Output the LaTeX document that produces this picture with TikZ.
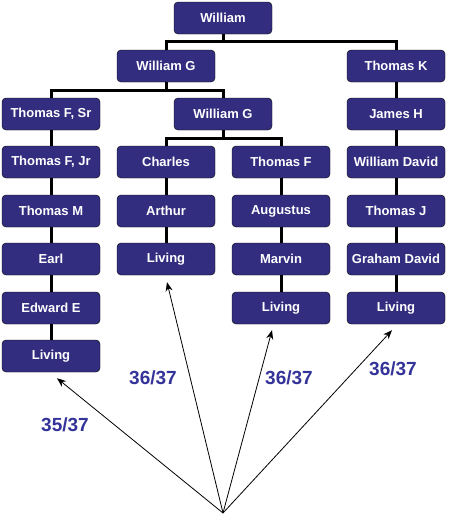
\documentclass[tikz,border=0pt]{standalone}
\usepackage{fontspec}
\setmainfont{Liberation Sans}
\usetikzlibrary{arrows.meta}
\definecolor{boxblue}{RGB}{51,45,128}
\definecolor{fracblue}{RGB}{51,51,153}

\begin{document}
\begin{tikzpicture}[x=1pt,y=-1pt,
  person/.style={draw=black,fill=boxblue,rounded corners=4pt,minimum width=98pt,
    minimum height=32pt,inner sep=0pt,text=white,font=\fontsize{13}{15}\selectfont\bfseries},
  branch/.style={line width=3pt},
  pointer/.style={line width=0.8pt,-{Stealth[length=9pt,width=7pt]}},
  score/.style={text=fracblue,font=\fontsize{19}{22}\selectfont\bfseries}]

\useasboundingbox (0,0) rectangle (448,515);

% people
\node[person] (will) at (223,18) {William};
\node[person] (wg) at (166,66) {William G};
\node[person] (tk) at (396,66) {Thomas K};
\node[person] (tfs) at (51,114) {Thomas F, Sr};
\node[person] (wgb) at (223,114) {William G};
\node[person] (jh) at (396,114) {James H};
\node[person] (tfj) at (51,162) {Thomas F, Jr};
\node[person] (cha) at (166,162) {Charles};
\node[person] (tf) at (281,162) {Thomas F};
\node[person] (wd) at (396,162) {William David};
\node[person] (tm) at (51,211) {Thomas M};
\node[person] (art) at (166,211) {Arthur};
\node[person] (aug) at (281,211) {Augustus};
\node[person] (tj) at (396,211) {Thomas J};
\node[person] (earl) at (51,259) {Earl};
\node[person] (livb) at (166,259) {Living};
\node[person] (mar) at (281,259) {Marvin};
\node[person] (gd) at (396,259) {Graham David};
\node[person] (ee) at (51,308) {Edward E};
\node[person] (livc) at (281,308) {Living};
\node[person] (livd) at (396,308) {Living};
\node[person] (liva) at (51,356) {Living};

% branches
\coordinate (ja) at (223,41);
\coordinate (jb) at (166,90);
\coordinate (jc) at (223,138);
\draw[branch] (will) -- (ja);
\draw[branch] (wg.north) |- (ja) -| (tk.north);
\draw[branch] (wg) -- (jb);
\draw[branch] (tfs.north) |- (jb) -| (wgb.north);
\draw[branch] (wgb) -- (jc);
\draw[branch] (cha.north) |- (jc) -| (tf.north);
\foreach \a/\b in {tk/jh,jh/wd,wd/tj,tj/gd,gd/livd,
                   tfs/tfj,tfj/tm,tm/earl,earl/ee,ee/liva,
                   cha/art,art/livb,tf/aug,aug/mar,mar/livc}
  \draw[branch] (\a.south) -- (\b.north);

% arrows
\coordinate (root) at (223,513);
\draw[pointer] (root) -- ([shift={(6,6)}]liva.south);
\draw[pointer] (root) -- ([shift={(1,7)}]livb.south);
\draw[pointer] (root) -- ([shift={(-9,6)}]livc.south);
\draw[pointer] (root) -- ([shift={(-4,6)}]livd.south);

\node[score] (sa) at (65,425) {35/37};
\node[score] (sb) at (153,378) {36/37};
\node[score] (sc) at (289,378) {36/37};
\node[score] (sd) at (393,369) {36/37};

\end{tikzpicture}
\end{document}
